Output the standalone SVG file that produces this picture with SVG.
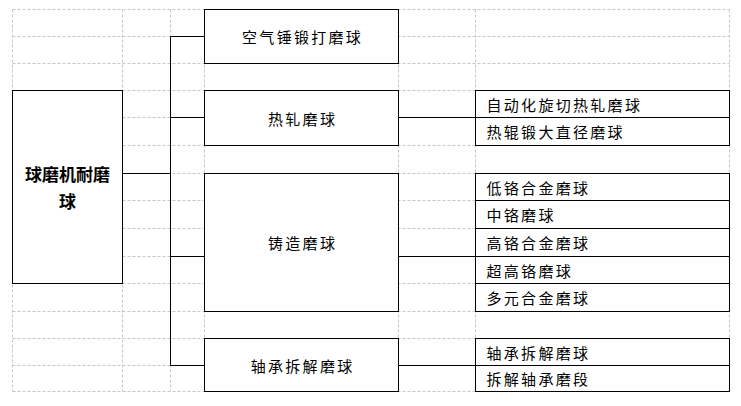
<svg xmlns="http://www.w3.org/2000/svg" width="741" height="406" viewBox="0 0 741 406">
<style>
.grid line{stroke:#c6c6c6;stroke-width:1;stroke-dasharray:3 2}
.box{fill:#fff;stroke:#000;stroke-width:1}
.conn line{stroke:#000;stroke-width:1}
text{font-family:"Noto Sans CJK SC","Noto Sans CJK JP",sans-serif;fill:#000;dominant-baseline:central}
.t2{font-size:15px;letter-spacing:2.3px;text-anchor:middle}
.t3{font-size:15px;letter-spacing:2.3px}
.t1{font-size:17px;font-weight:bold;text-anchor:middle}
</style>
<rect width="741" height="406" fill="#fff"/>
<g class="grid">
<line x1="12.5" y1="9.5" x2="729.5" y2="9.5"/>
<line x1="12.5" y1="36.5" x2="729.5" y2="36.5"/>
<line x1="12.5" y1="63.5" x2="729.5" y2="63.5"/>
<line x1="12.5" y1="90.5" x2="729.5" y2="90.5"/>
<line x1="12.5" y1="117.5" x2="729.5" y2="117.5"/>
<line x1="12.5" y1="145.5" x2="729.5" y2="145.5"/>
<line x1="12.5" y1="173.5" x2="729.5" y2="173.5"/>
<line x1="12.5" y1="200.5" x2="729.5" y2="200.5"/>
<line x1="12.5" y1="228.5" x2="729.5" y2="228.5"/>
<line x1="12.5" y1="256.5" x2="729.5" y2="256.5"/>
<line x1="12.5" y1="283.5" x2="729.5" y2="283.5"/>
<line x1="12.5" y1="311.5" x2="729.5" y2="311.5"/>
<line x1="12.5" y1="338.5" x2="729.5" y2="338.5"/>
<line x1="12.5" y1="365.5" x2="729.5" y2="365.5"/>
<line x1="12.5" y1="391.5" x2="729.5" y2="391.5"/>
<line x1="12.5" y1="9.5" x2="12.5" y2="391.5"/>
<line x1="122.5" y1="9.5" x2="122.5" y2="391.5"/>
<line x1="170.5" y1="9.5" x2="170.5" y2="391.5"/>
<line x1="204.5" y1="9.5" x2="204.5" y2="391.5"/>
<line x1="398.5" y1="9.5" x2="398.5" y2="391.5"/>
<line x1="475.5" y1="9.5" x2="475.5" y2="391.5"/>
<line x1="729.5" y1="9.5" x2="729.5" y2="391.5"/>
</g>
<g class="conn" id="connectors">
<line x1="122.5" y1="173.5" x2="170.5" y2="173.5"/>
<line x1="170.5" y1="36.5" x2="170.5" y2="365.5"/>
<line x1="170.5" y1="36.5" x2="204.5" y2="36.5"/>
<line x1="170.5" y1="117.5" x2="204.5" y2="117.5"/>
<line x1="170.5" y1="256.5" x2="204.5" y2="256.5"/>
<line x1="170.5" y1="365.5" x2="204.5" y2="365.5"/>
<line x1="398.5" y1="117.5" x2="475.5" y2="117.5"/>
<line x1="398.5" y1="256.5" x2="475.5" y2="256.5"/>
<line x1="398.5" y1="365.5" x2="475.5" y2="365.5"/>
</g>
<g id="root">
<rect class="box" x="12.5" y="90.5" width="110" height="193"/>
<text class="t1" x="67.5" y="173.5">球磨机耐磨</text>
<text class="t1" x="67.5" y="200.5">球</text>
</g>
<g id="n-kongqi">
<rect class="box" x="204.5" y="9.5" width="194" height="54"/>
<text class="t2" x="302.6" y="36.5">空气锤锻打磨球</text>
</g>
<g id="n-rezha">
<rect class="box" x="204.5" y="90.5" width="194" height="55"/>
<text class="t2" x="302.6" y="118">热轧磨球</text>
</g>
<g id="n-zhuzao">
<rect class="box" x="204.5" y="173.5" width="194" height="138"/>
<text class="t2" x="302.6" y="242.5">铸造磨球</text>
</g>
<g id="n-zhoucheng">
<rect class="box" x="204.5" y="338.5" width="194" height="53"/>
<text class="t2" x="302.6" y="365">轴承拆解磨球</text>
</g>
<g id="l-1">
<rect class="box" x="475.5" y="90.5" width="254" height="27"/>
<text class="t3" x="486.5" y="104">自动化旋切热轧磨球</text>
</g>
<g id="l-2">
<rect class="box" x="475.5" y="117.5" width="254" height="28"/>
<text class="t3" x="486.5" y="131.5">热辊锻大直径磨球</text>
</g>
<g id="l-3">
<rect class="box" x="475.5" y="173.5" width="254" height="27"/>
<text class="t3" x="486.5" y="187">低铬合金磨球</text>
</g>
<g id="l-4">
<rect class="box" x="475.5" y="200.5" width="254" height="28"/>
<text class="t3" x="486.5" y="214.5">中铬磨球</text>
</g>
<g id="l-5">
<rect class="box" x="475.5" y="228.5" width="254" height="28"/>
<text class="t3" x="486.5" y="242.5">高铬合金磨球</text>
</g>
<g id="l-6">
<rect class="box" x="475.5" y="256.5" width="254" height="27"/>
<text class="t3" x="486.5" y="270">超高铬磨球</text>
</g>
<g id="l-7">
<rect class="box" x="475.5" y="283.5" width="254" height="28"/>
<text class="t3" x="486.5" y="297.5">多元合金磨球</text>
</g>
<g id="l-8">
<rect class="box" x="475.5" y="338.5" width="254" height="27"/>
<text class="t3" x="486.5" y="352">轴承拆解磨球</text>
</g>
<g id="l-9">
<rect class="box" x="475.5" y="365.5" width="254" height="26"/>
<text class="t3" x="486.5" y="378.5">拆解轴承磨段</text>
</g>
</svg>
